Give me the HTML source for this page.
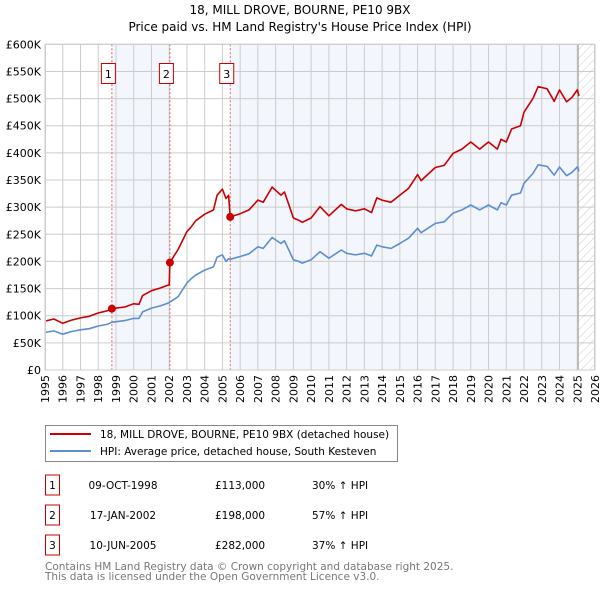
<!DOCTYPE html>
<html><head><meta charset="utf-8"><style>
body{margin:0;background:#fff;}
svg text{font-family:"DejaVu Sans","Liberation Sans",sans-serif;}
</style></head><body>
<svg width="600" height="590" xmlns="http://www.w3.org/2000/svg" id="chart">
<defs><pattern id="hatch" width="6" height="6" patternUnits="userSpaceOnUse" patternTransform="rotate(45)"><line x1="0" y1="0" x2="0" y2="6" stroke="#ccc" stroke-width="1"/></pattern></defs>
<text x="300" y="14" text-anchor="middle" font-size="12">18, MILL DROVE, BOURNE, PE10 9BX</text>
<text x="300" y="31" text-anchor="middle" font-size="12">Price paid vs. HM Land Registry's House Price Index (HPI)</text>
<g id="plot"></g>
<g>
<rect x="45.5" y="425.5" width="352" height="36" fill="#fff" stroke="#888"/>
<line x1="50" y1="434" x2="91" y2="434" stroke="#cc0000" stroke-width="2"/>
<text x="100" y="438" font-size="10.5">18, MILL DROVE, BOURNE, PE10 9BX (detached house)</text>
<line x1="50" y1="451" x2="91" y2="451" stroke="#5b8fd0" stroke-width="2"/>
<text x="100" y="455" font-size="10.5">HPI: Average price, detached house, South Kesteven</text>
</g>
<g id="table" font-size="10.5"></g>
<text x="45" y="570" font-size="10.5" fill="#777">Contains HM Land Registry data © Crown copyright and database right 2025.</text>
<text x="45" y="580" font-size="10.5" fill="#777">This data is licensed under the Open Government Licence v3.0.</text>
</svg>
<script>
const dates=[1995,1995.5,1996,1996.5,1997,1997.5,1998,1998.5,1998.77,1999,1999.5,2000,2000.3,2000.5,2001,2001.5,2002,2002.04,2002.5,2003,2003.2,2003.5,2004,2004.5,2004.7,2005,2005.2,2005.35,2005.44,2006,2006.5,2007,2007.3,2007.8,2008.3,2008.5,2009,2009.3,2009.5,2010,2010.5,2011,2011.7,2012,2012.5,2013,2013.4,2013.7,2014,2014.5,2015,2015.5,2016,2016.2,2017,2017.5,2018,2018.5,2019,2019.5,2020,2020.5,2020.7,2021,2021.3,2021.8,2022,2022.5,2022.8,2023.3,2023.7,2024,2024.4,2024.7,2025,2025.1];
const hpiValues=[69,72,66,71,74,76,81,84,88,89,91,95,95,107,114,118,124,125,135,160,167,175,184,190,208,212,200,205,204,209,214,227,224,244,233,238,203,200,197,203,218,206,221,215,212,215,210,230,227,224,233,243,261,253,270,273,289,295,304,295,304,295,308,304,322,326,344,362,378,375,359,374,358,364,374,366];
const priceValues=[90,94,86,92,96,99,105,109,113,114,116,122,121,137,146,151,157,198,222,255,262,275,287,295,322,333,316,322,282,288,295,313,309,337,322,328,280,276,272,280,301,284,305,297,293,297,290,317,313,309,322,335,360,349,373,377,399,407,420,407,420,407,425,420,444,450,475,500,522,518,495,516,494,502,516,505];
const saleDates=[1998.77,2002.04,2005.44];
const salePrices=[113,198,282];
const saleLabels=["09-OCT-1998","17-JAN-2002","10-JUN-2005"];
const salePriceText=["£113,000","£198,000","£282,000"];
const saleHpiText=["30% ↑ HPI","57% ↑ HPI","37% ↑ HPI"];
const yTicks=[0,50,100,150,200,250,300,350,400,450,500,550,600];
const yTickLabels=["£0","£50K","£100K","£150K","£200K","£250K","£300K","£350K","£400K","£450K","£500K","£550K","£600K"];
const xYears=[1995,1996,1997,1998,1999,2000,2001,2002,2003,2004,2005,2006,2007,2008,2009,2010,2011,2012,2013,2014,2015,2016,2017,2018,2019,2020,2021,2022,2023,2024,2025,2026];
const dataEnd=2025.05;

const X0=45,X1=595,Y0=370,Y1=44.3;
const xs=t=>X0+(t-1995)/(2026-1995)*(X1-X0);
const ys=v=>Y0-v/600*(Y0-Y1);
const NS="http://www.w3.org/2000/svg";
const plot=document.getElementById('plot');
function mk(tag,attrs,parent){const e=document.createElementNS(NS,tag);for(const k in attrs)e.setAttribute(k,attrs[k]);(parent||plot).appendChild(e);return e;}

let r=mk('rect',{x:X0,y:Y1,width:X1-X0,height:Y0-Y1,fill:'#fff'});


r=mk('rect',{x:xs(saleDates[0]),y:Y1,width:xs(saleDates[1])-xs(saleDates[0]),height:Y0-Y1,fill:'#f3f6fd'});


r=mk('rect',{x:xs(saleDates[2]),y:Y1,width:xs(dataEnd)-xs(saleDates[2]),height:Y0-Y1,fill:'#f3f6fd'});


r=mk('rect',{x:xs(dataEnd),y:Y1,width:X1-xs(dataEnd),height:Y0-Y1,fill:'url(#hatch)'});



xYears.forEach(y=>{
  const l=mk('line',{x1:xs(y),x2:xs(y),y1:Y1,y2:Y0,stroke:'#ccc','stroke-width':1});
  
  
  const t=mk('text',{x:0,y:0,'font-size':11,'text-anchor':'end',transform:`translate(${xs(y)+4},${Y0+5}) rotate(-90)`});
  t.textContent=y;
  
  
});
yTicks.forEach((v,i)=>{
  const l=mk('line',{x1:X0,x2:X1,y1:ys(v),y2:ys(v),stroke:'#ccc','stroke-width':1});
  
  
  const t=mk('text',{x:41,y:ys(v)+4,'font-size':11,'text-anchor':'end'});
  t.textContent=yTickLabels[i];
  
  
});
let ln=mk('line',{x1:xs(dataEnd),x2:xs(dataEnd),y1:Y1,y2:Y0,stroke:'#999','stroke-width':1});



saleDates.forEach((d,i)=>{
  const l=mk('line',{x1:xs(d),x2:xs(d),y1:Y1,y2:Y0,stroke:'#e06060','stroke-width':1,'stroke-dasharray':'2,2'});
  
  
  const g=mk('g',{});
  
  
  mk('rect',{x:xs(d)-10.5,y:63.5,width:14,height:20,fill:'#fff',stroke:'#cc0000'},g);
  const t=mk('text',{x:xs(d)-3.5,y:78,'font-size':11,'text-anchor':'middle'},g);
  t.textContent=i+1;
});

function path(vals,color,name){
  const d=vals.map((v,i)=>(i?'L':'M')+xs(dates[i]).toFixed(1)+','+ys(v).toFixed(1)).join('');
  const p=mk('path',{d,fill:'none',stroke:color,'stroke-width':1.6,'stroke-linejoin':'round'});
  
  
}
path(hpiValues,'#5b8fd0','hpi-line');
path(priceValues,'#cc0000','price-line');
saleDates.forEach((d,i)=>{
  const c=mk('circle',{cx:xs(d),cy:ys(salePrices[i]),r:4,fill:'#cc0000'});
  
  
});
let b=mk('rect',{x:X0+0.5,y:Y1,width:X1-X0-1,height:Y0-Y1,fill:'none',stroke:'#ccc'});



const tbl=document.getElementById('table');
saleLabels.forEach((s,i)=>{
  const y=485+i*30;
  const g=mk('g',{},tbl);
  
  
  mk('rect',{x:45.5,y:y-10,width:14,height:20,fill:'#fff',stroke:'#cc0000'},g);
  let t=mk('text',{x:52.5,y:y+4,'text-anchor':'middle'},g);t.textContent=i+1;
  t=mk('text',{x:123,y:y+4,'text-anchor':'middle'},g);t.textContent=s;
  t=mk('text',{x:215,y:y+4},g);t.textContent=salePriceText[i];
  t=mk('text',{x:312,y:y+4},g);t.textContent=saleHpiText[i];
});
</script>
</body></html>
